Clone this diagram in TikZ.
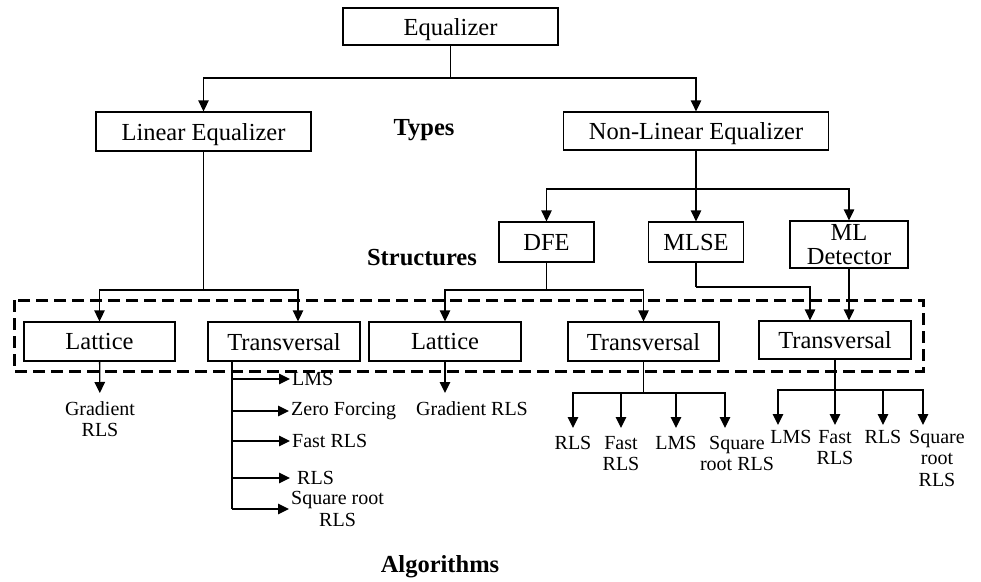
\documentclass[tikz,border=0pt]{standalone}
\usepackage{fontspec}
\setmainfont{Liberation Serif}
\usepackage{tikz}
\usetikzlibrary{calc}
\usetikzlibrary{arrows.meta}
\usetikzlibrary{positioning}

\tikzset{
    box/.style      = {draw, line width=1.3pt, inner sep=0pt, align=center,
                       font=\fontsize{24.5}{24}\selectfont},
    cell/.style     = {box, text depth=0pt},
    algo/.style     = {inner xsep=2pt, inner ysep=8pt, align=center,
                       font=\fontsize{20}{21.5}\selectfont},
    heading/.style  = {inner sep=0pt, font=\fontsize{24.5}{26}\selectfont\bfseries},
    link/.style     = {line width=1.3pt},
    arr/.style      = {link, -{Triangle[length=11pt,width=10.5pt]}},
    frame/.style    = {line width=3pt, dash pattern=on 12pt off 6pt},
}

\begin{document}
\begin{tikzpicture}[x=1pt, y=-1pt]
    \useasboundingbox (0,0) rectangle (981,581);

    % dashed frame round the structures
    \draw[frame] (14,300) rectangle (923,371);

    % types
    \node[cell, minimum width=215pt, minimum height=37pt] (eq)     at (450.5, 26.5) {Equalizer};
    \node[cell, minimum width=215pt, minimum height=39pt] (lin)    at (203.5,131.5) {Linear Equalizer};
    \node[cell, minimum width=265pt, minimum height=38pt] (nonlin) at (696.0,131.0) {Non-Linear Equalizer};

    % structures
    \node[cell, minimum width=95pt,  minimum height=40pt] (dfe)    at (546.5,242.0) {DFE};
    \node[cell, minimum width=95pt,  minimum height=40pt] (mlse)   at (696.0,242.0) {MLSE};
    \node[box,  minimum width=118pt, minimum height=47pt] (mld)    at (849.0,244.5) {ML\\Detector};
    \node[cell, minimum width=151pt, minimum height=39pt] (lat1)   at ( 99.5,341.5) {Lattice};
    \node[cell, minimum width=152pt, minimum height=39pt] (tr1)    at (284.0,341.5) {Transversal};
    \node[cell, minimum width=152pt, minimum height=39pt] (lat2)   at (445.0,341.5) {Lattice};
    \node[cell, minimum width=151pt, minimum height=39pt] (tr2)    at (643.5,341.5) {Transversal};
    \node[cell, minimum width=152pt, minimum height=38pt] (tr3)    at (835.0,340.0) {Transversal};

    % headings
    \node[heading] (types)      at (424,130) {Types};
    \node[heading] (structures) at (422,258) {Structures};
    \node[heading] (algorithms) at (440,567) {Algorithms};

    % algorithms
    \node[algo, anchor=north] (grad1) at (100,393) {Gradient\\RLS};
    \node[algo, anchor=north] (grad2) at (472,393) {Gradient RLS};

    \node[algo, anchor=west, inner ysep=2pt] (lms1)  at (290,379) {LMS};
    \node[algo, anchor=west, inner ysep=2pt] (zero1) at (289,411) {Zero Forcing};
    \node[algo, anchor=west, inner ysep=2pt] (fast1) at (290,441) {Fast RLS};
    \node[algo, anchor=west, inner ysep=2pt] (rls1)  at (290,478) {\hspace{5pt}RLS};
    \node[algo, anchor=west, inner ysep=2pt] (sq1)   at (289,509) {Square root\\RLS};

    \node[algo, anchor=north] (rls2)  at (573,428) {RLS};
    \node[algo, anchor=north] (fast2) at (621,428) {Fast\\RLS};
    \node[algo, anchor=north] (lms2)  at (676,428) {LMS};
    \node[algo, anchor=north] (sq2)   at (737,428) {Square\\root RLS};

    \node[algo, anchor=north, inner ysep=5pt] (lms3)  at (791,425) {LMS};
    \node[algo, anchor=north, inner ysep=5pt] (fast3) at (835,425) {Fast\\RLS};
    \node[algo, anchor=north, inner ysep=5pt] (rls3)  at (883,425) {RLS};
    \node[algo, anchor=north, inner ysep=5pt] (sq3)   at (937,425) {Square\\root\\RLS};

    % junctions
    \coordinate (j1) at (450.5, 78);
    \coordinate (j2) at (696.0,189);
    \coordinate (j3) at (203.5,290);
    \coordinate (j4) at (546.5,290);
    \coordinate (j5) at (696.0,287);
    \coordinate (t1) at ([xshift=-52pt]tr1.south);
    \coordinate (b2) at (643.5,393);
    \coordinate (b3) at (835.0,390);

    % connectors, types
    \draw[link] (eq) -- (j1);
    \draw[arr]  (j1) -| (lin);
    \draw[arr]  (j1) -| (nonlin);

    % connectors, structures
    \draw[arr]  (nonlin) -- (mlse);
    \draw[arr]  (j2) -| (dfe);
    \draw[arr]  (j2) -| (mld);
    \draw[link] (lin) -- (j3);
    \draw[arr]  (j3) -| (lat1);
    \draw[arr]  (j3) -| ([xshift=14pt]tr1.north);
    \draw[link] (dfe) -- (j4);
    \draw[arr]  (j4) -| (lat2);
    \draw[arr]  (j4) -| (tr2);
    \draw[link] (mlse) -- (j5);
    \draw[arr]  (j5) -| ([xshift=-25pt]tr3.north);
    \draw[arr]  (mld) -- (mld |- tr3.north);

    % connectors, algorithms
    \draw[arr]  (lat1) -- (grad1);
    \draw[arr]  (lat2.south) -- (lat2.south |- grad2.north);

    \draw[link] (t1) -- (t1 |- sq1.west);
    \foreach \n in {lms1,zero1,fast1,rls1,sq1}
        \draw[arr] (t1 |- \n.west) -- (\n.west);

    \draw[link] (tr2) -- (b2);
    \draw[arr]  (b2) -| (rls2);
    \draw[arr]  (b2) -| (fast2);
    \draw[arr]  (b2) -| (lms2);
    \draw[arr]  (b2) -| ([xshift=-12pt]sq2.north);

    \draw[arr]  (tr3) -- (fast3);
    \draw[arr]  (b3) -| ([xshift=-13pt]lms3.north);
    \draw[arr]  (b3) -| (rls3);
    \draw[arr]  (b3) -| ([xshift=-14pt]sq3.north);
\end{tikzpicture}
\end{document}
